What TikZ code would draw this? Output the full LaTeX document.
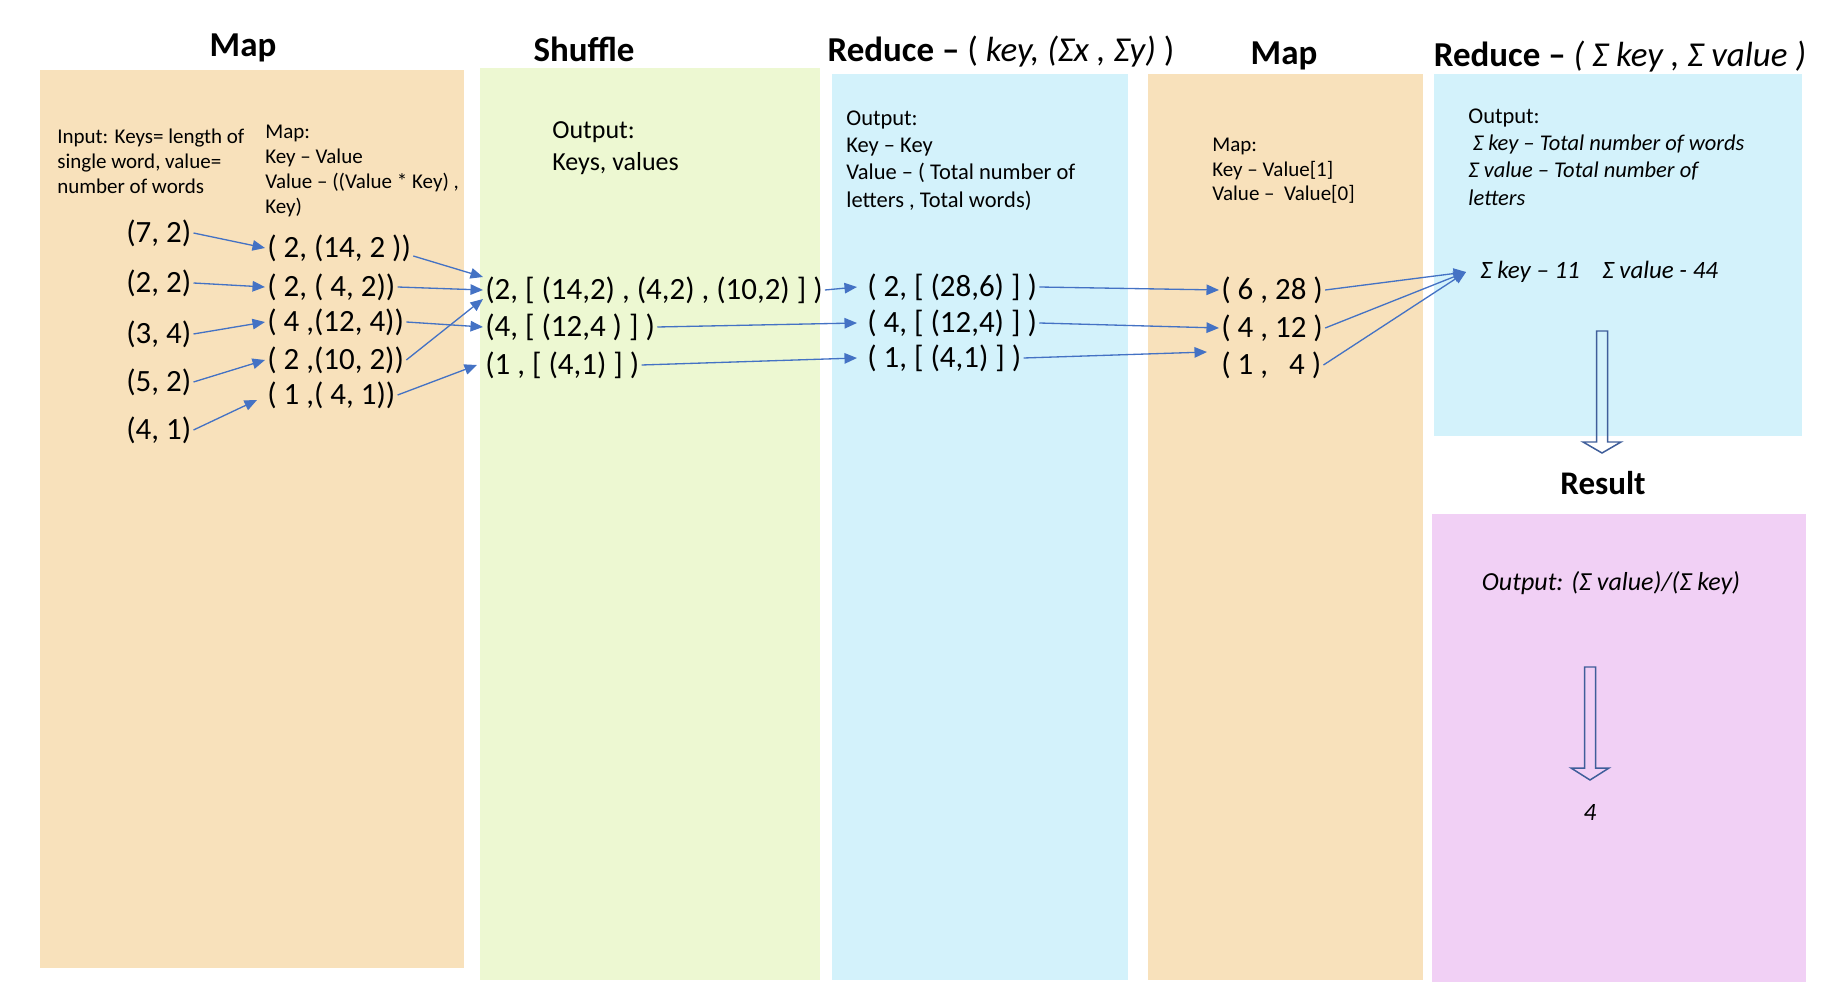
\documentclass[tikz,border=0pt]{standalone}
\usepackage{fontspec}
\setmainfont{Carlito}
\usetikzlibrary{arrows.meta}
\definecolor{mapColor}{HTML}{F8E1BB}
\definecolor{shuffleColor}{HTML}{EDF8D2}
\definecolor{reduceColor}{HTML}{D3F2FB}
\definecolor{resultColor}{HTML}{F1D0F5}
\definecolor{arrowBlue}{HTML}{4472C4}
\definecolor{hollowBlue}{HTML}{3F5E9A}
\tikzstyle{plot} = [x = 0.02cm, y = -0.02cm]
\tikzstyle{titleText} = [font=\fontsize{19.9}{24}\selectfont\bfseries, anchor=base, inner sep=0pt]
\tikzstyle{pairText} = [font=\fontsize{17.6}{21}\selectfont, anchor=west, inner xsep=0.4mm, inner ysep=0pt]
\tikzstyle{noteText} = [align=left, anchor=north west, inner sep=0pt]
\tikzstyle{flowArrow} = [color=arrowBlue, line width=0.75pt, -{Triangle[length=2.5mm, width=2.1mm]}]
\tikzstyle{hollowArrowStyle} = [draw=hollowBlue, line width=0.85pt]
\newcommand{\stageBox}[5]{\fill [#1] (#2,#3) rectangle (#4,#5);}
\newcommand{\hollowArrow}[4]{\draw [hollowArrowStyle] (#1 - 5.5,#2) -- (#1 + 5.5,#2) -- (#1 + 5.5,#3) -- (#1 + 19,#3) -- (#1,#4) -- (#1 - 19,#3) -- (#1 - 5.5,#3) -- cycle;}
\begin{document}
\begin{tikzpicture}[plot]
  \useasboundingbox (0,0) rectangle (1828,1006);
  % stage areas
  \stageBox{mapColor}{40}{70}{464}{968}
  \stageBox{shuffleColor}{480}{68}{820}{980}
  \stageBox{reduceColor}{832}{74}{1128}{980}
  \stageBox{mapColor}{1148}{74}{1423}{980}
  \stageBox{reduceColor}{1434}{74}{1802}{436}
  \stageBox{resultColor}{1432}{514}{1806}{982}

  % titles
  \node [titleText] (mapTitle) at (243,57) {Map};
  \node [titleText] (shuffleTitle) at (584,62) {Shuffle};
  \node [titleText] (reduceTitle) at (1001,62) {Reduce – \textmd{( \textit{key, (Σx , Σy)} )}};
  \node [titleText] (mapTitleB) at (1284,65) {Map};
  \node [titleText] (reduceTitleB) at (1620,67) {Reduce – \textmd{\textit{( Σ key , Σ value )}}};
  \node [titleText, font=\fontsize{18.8}{22}\selectfont\bfseries] (resultTitle) at (1603,495) {Result};

  % notes
  \node [noteText, font=\fontsize{11.95}{14.2}\selectfont] (inputNote) at (57,129)
    {Input: Keys= length of\\single word, value=\\number of words};
  \node [noteText, font=\fontsize{11.95}{14.2}\selectfont] (mapNote) at (265,125)
    {Map:\\Key – Value\\Value – ((Value * Key) ,\\Key)};
  \node [noteText, font=\fontsize{14.8}{18.2}\selectfont] (shuffleNote) at (552,121)
    {Output:\\Keys, values};
  \node [noteText, font=\fontsize{12.8}{15.5}\selectfont] (reduceNote) at (846,110.5)
    {Output:\\Key – Key\\Value – ( Total number of\\letters , Total words)};
  \node [noteText, font=\fontsize{11.95}{13.9}\selectfont] (mapNoteB) at (1212,138)
    {Map:\\Key – Value[1]\\Value – \ Value[0]};
  \node [noteText, font=\fontsize{12.8}{15.5}\selectfont] (reduceNoteB) at (1468,108.5)
    {Output:\\\hspace{0.2em}\textit{Σ key – Total number of words}\\\textit{Σ value – Total number of}\\\textit{letters}};

  % key value pairs
  \foreach \name/\txt/\ypos in {in1/{(7, 2)}/233, in2/{(2, 2)}/283, in3/{(3, 4)}/334, in4/{(5, 2)}/382, in5/{(4, 1)}/430}
    \node [pairText] (\name) at (124,\ypos) {\txt};
  \foreach \name/\txt/\ypos in {m1/{( 2, (14, 2 ))}/248, m2/{( 2, ( 4, 2))}/287, m3/{( 4 ,(12, 4))}/322, m4/{( 2 ,(10, 2))}/360, m5/{( 1 ,( 4, 1))}/395}
    \node [pairText] (\name) at (265,\ypos) {\txt};
  \foreach \name/\txt/\ypos in {s1/{(2, [ (14,2) , (4,2) , (10,2) ] )}/290, s2/{(4, [ (12,4 ) ] )}/327, s3/{(1 , [ (4,1) ] )}/365}
    \node [pairText] (\name) at (483,\ypos) {\txt};
  \foreach \name/\txt/\ypos in {r1/{( 2, [ (28,6) ] )}/287, r2/{( 4, [ (12,4) ] )}/323, r3/{( 1, [ (4,1) ] )}/358}
    \node [pairText] (\name) at (865,\ypos) {\txt};
  \foreach \name/\txt/\ypos in {k1/{( 6 , 28 )}/290, k2/{( 4 , 12 )}/328, k3/{( 1 , \ \ 4 )}/365}
    \node [pairText] (\name) at (1219,\ypos) {\txt};

  \node [pairText, font=\fontsize{14.2}{17}\selectfont\itshape] (total) at (1478,272) {Σ key – 11 \hspace{0.45em} Σ value - 44};
  \coordinate (totalIn) at ([xshift=-2.4mm]total.west);
  \node [font=\fontsize{14.8}{18}\selectfont\itshape, inner sep=0pt] (resultNote) at (1611,583) {Output: (Σ value)/(Σ key)};
  \node [font=\fontsize{14.2}{17}\selectfont\itshape, inner sep=0pt] (answer) at (1590,812) {4};

  % connectors
  \foreach \a/\b in {in1/m1, in2/m2, in3/m3, in4/m4}
    \draw [flowArrow] (\a.east) -- (\b.west);
  \draw [flowArrow] (in5.east) -- ([xshift=-1.6mm, yshift=-1mm]m5.west);
  \draw [flowArrow] ([yshift=-1.6mm]m1.east) -- ([yshift=2.6mm]s1.west);
  \draw [flowArrow] (m2.east) -- (s1.west);
  \draw [flowArrow] (m3.east) -- (s2.west);
  \draw [flowArrow] (m4.east) -- ([yshift=-1.8mm]s1.west);
  \draw [flowArrow] (m5.east) -- ([xshift=-1.2mm]s3.west);
  \foreach \a/\b in {s1/r1, s2/r2, s3/r3}
    \draw [flowArrow] (\a.east) -- ([xshift=-1.6mm]\b.west);
  \draw [flowArrow] (r1.east) -- (k1.west);
  \draw [flowArrow] (r2.east) -- (k2.west);
  \draw [flowArrow] (r3.east) -- ([xshift=-2.4mm, yshift=2.6mm]k3.west);
  \foreach \a in {k1, k2, k3}
    \draw [flowArrow] (\a.east) -- (totalIn);

  \hollowArrow{1602}{331}{442}{453}
  \hollowArrow{1590}{667}{768}{780}
\end{tikzpicture}
\end{document}
